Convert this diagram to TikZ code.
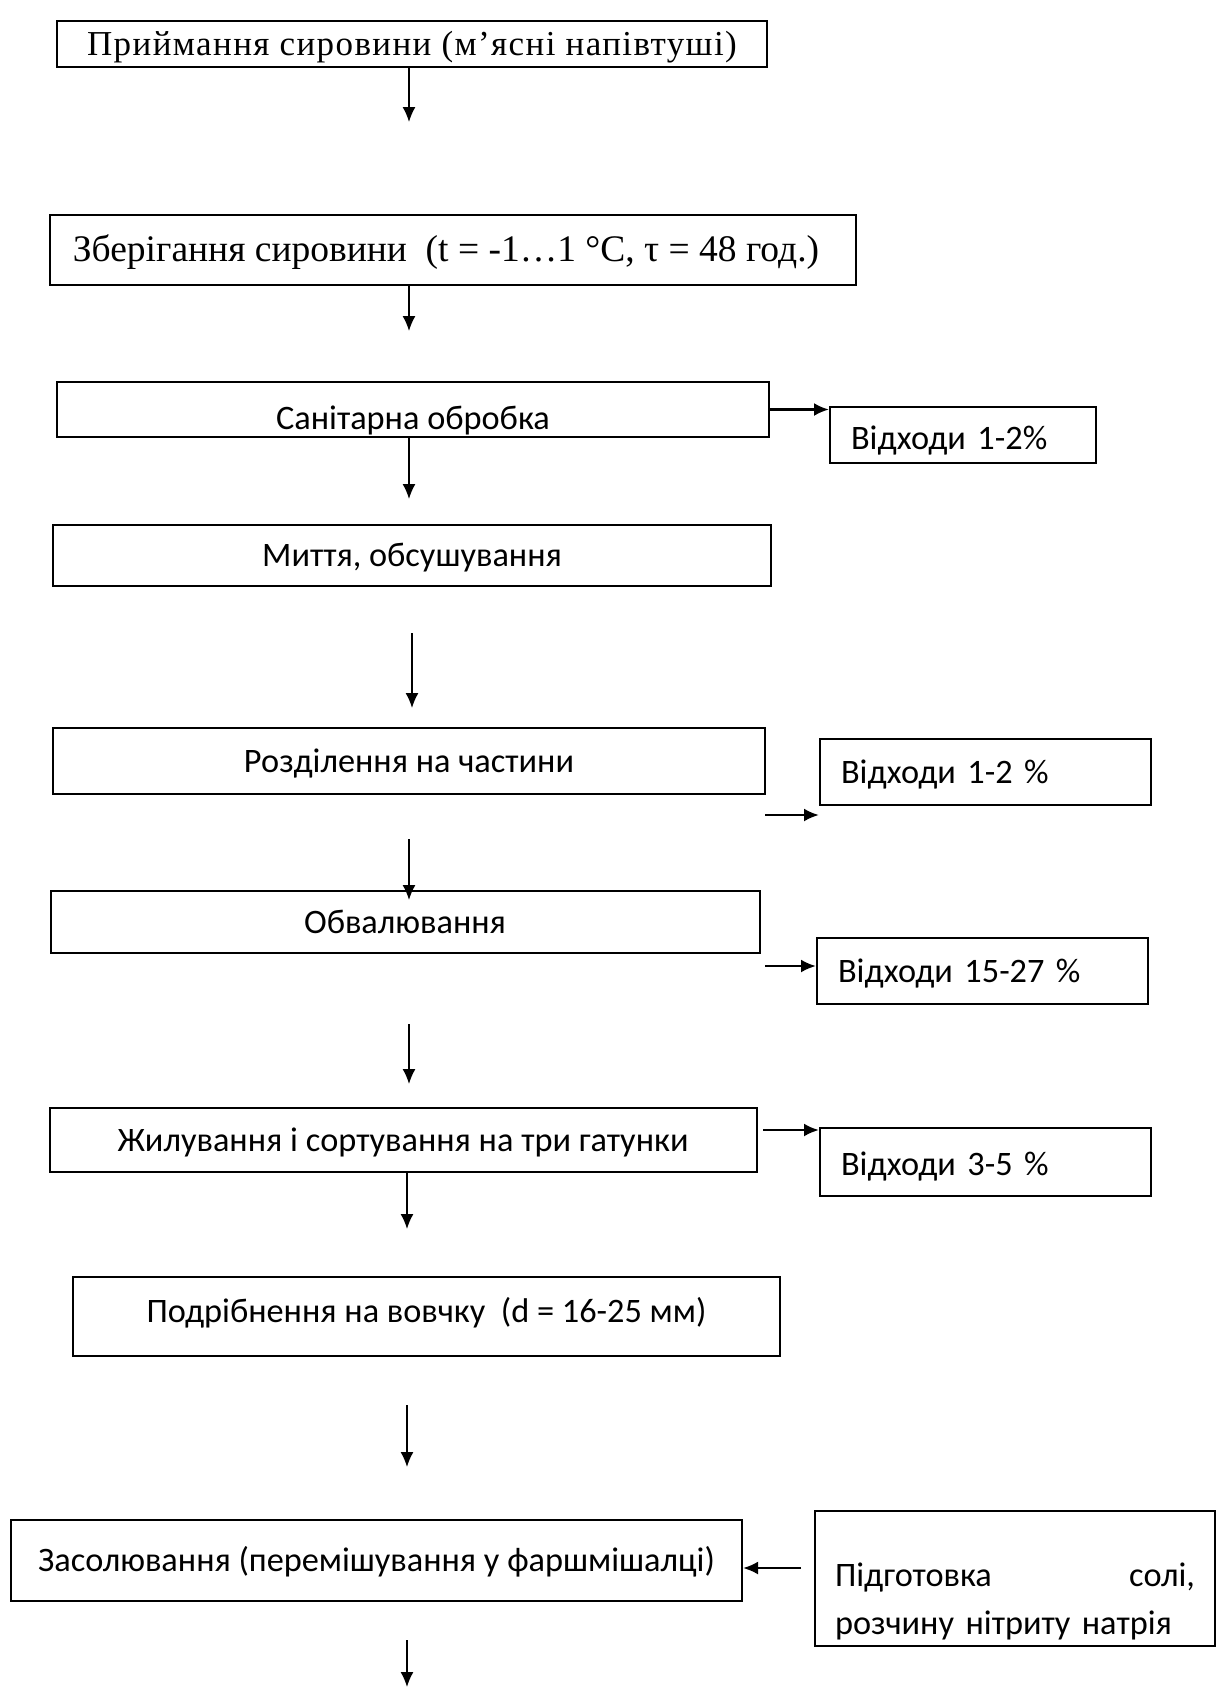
\documentclass[tikz,border=0pt]{standalone}
\usepackage{fontspec}
\usepackage{tikz}
\setmainfont{Liberation Serif}
\newfontfamily\calibri{Carlito}
\newfontfamily\timeswide[LetterSpace=4]{Liberation Serif}
\usetikzlibrary{arrows.meta}

\begin{document}
\begin{tikzpicture}[x=1pt, y=-1pt, >={Latex[length=15pt,width=13pt]},
    box/.style={rectangle, draw, line width=2pt, inner sep=0pt, font=\calibri\fontsize{34.3}{40}\selectfont},
    stage/.style={box, text height=28pt, text depth=6pt},
    oldstage/.style={stage, font=\fontsize{35}{42}\selectfont},
    waste/.style={stage, align=left, inner xsep=21pt, text width=#1},
    flow/.style={->, line width=1.5pt},
    side/.style={->, line width=2.5pt}]
    \useasboundingbox (0,0) rectangle (1221,1687);

    % main line
    \node[oldstage, minimum width=710pt, minimum height=46pt] (priym) at (412,44) {\timeswide Приймання сировини (м’ясні напівтуші)};
    \node[oldstage, minimum width=806pt, minimum height=70pt, font=\fontsize{37.5}{44}\selectfont] (zber) at (453,250) {Зберігання сировини\ \ (t = -1…1 °C, τ = 48 год.)\hspace*{14pt}};
    \node[stage, minimum width=712pt, minimum height=55pt] (sanit) at (413,409.5) {\raisebox{-9pt}{Санітарна обробка}};
    \node[stage, minimum width=718pt, minimum height=61pt] (myt) at (412,555.5) {Миття, обсушування};
    \node[stage, minimum width=712pt, minimum height=66pt] (rozd) at (409,761) {Розділення на частини};
    \node[stage, minimum width=709pt, minimum height=62pt] (obval) at (405,922) {Обвалювання};
    \node[stage, minimum width=707pt, minimum height=64pt] (zhyl) at (403,1140) {Жилування і сортування на три гатунки};
    \node[stage, minimum width=707pt, minimum height=79pt] (podr) at (426.5,1316.5) {\raisebox{5.5pt}{Подрібнення на вовчку\ \ (d = 16-25 мм)}};
    \node[stage, minimum width=731pt, minimum height=81pt] (zasol) at (376.5,1560.5) {Засолювання (перемішування у фаршмішалці)};

    % side boxes
    \node[waste=224pt, minimum width=266pt, minimum height=56pt] (vidh1) at (963,435) {\raisebox{-3pt}{Відходи 1-2\%}};
    \node[waste=289pt, minimum width=331pt, minimum height=66pt] (vidh2) at (985.5,772) {Відходи 1-2 \%};
    \node[waste=289pt, minimum width=331pt, minimum height=66pt] (vidh3) at (982.5,971) {Відходи 15-27 \%};
    \node[waste=289pt, minimum width=331pt, minimum height=68pt] (vidh4) at (985.5,1162) {\raisebox{-2pt}{Відходи 3-5 \%}};
    \node[box, align=left, inner xsep=20pt, text width=360pt, minimum width=400pt, minimum height=135pt,
        font=\calibri\fontsize{34.3}{48}\selectfont] (pidh) at (1015,1578.5)
        {\rule{0pt}{70pt}Підготовка\hskip 0pt plus 1filll солі,\\розчину нітриту натрія};

    % arrows down
    \coordinate (a1) at (409,122);
    \coordinate (a2) at (409,331);
    \coordinate (a3) at (409,499);
    \coordinate (a4s) at (412,633);
    \coordinate (a4) at (412,708);
    \coordinate (a5s) at (409,839);
    \coordinate (a5) at (409,900);
    \coordinate (a6s) at (409,1024);
    \coordinate (a6) at (409,1084);
    \coordinate (a7) at (407,1229);
    \coordinate (a8s) at (407,1405);
    \coordinate (a8) at (407,1467);
    \coordinate (a9s) at (407,1640);
    \coordinate (a9) at (407,1687);
    \draw[flow] (priym.south -| a1) -- (a1);
    \draw[flow] (zber.south -| a2) -- (a2);
    \draw[flow] (sanit.south -| a3) -- (a3);
    \draw[flow] (a4s) -- (a4);
    \draw[flow] (a5s) -- (a5);
    \draw[flow] (a6s) -- (a6);
    \draw[flow] (zhyl.south -| a7) -- (a7);
    \draw[flow] (a8s) -- (a8);
    \draw[flow] (a9s) -- (a9);

    % arrows to the side
    \coordinate (s2) at (765,815);
    \coordinate (s3) at (765,966);
    \coordinate (s4) at (763,1130);
    \coordinate (s5) at (801,1568);
    \draw[side] (sanit.east) -- (sanit.east -| vidh1.west);
    \draw[side] (s2) -- (s2 -| vidh2.west);
    \draw[side] (s3) -- (s3 -| vidh3.west);
    \draw[side] (s4) -- (s4 -| vidh4.west);
    \draw[side] (s5) -- (s5 -| zasol.east);
\end{tikzpicture}
\end{document}
